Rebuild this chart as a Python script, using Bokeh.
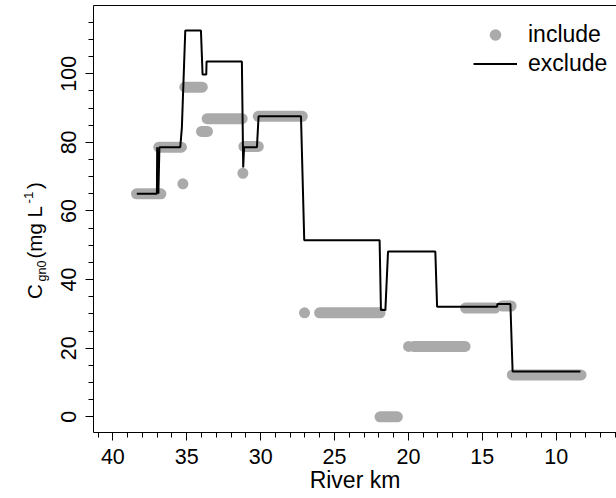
import math
from bokeh.plotting import figure
from bokeh.layouts import row
from bokeh.core.properties import value
from bokeh.models import (Range1d, SingleIntervalTicker, FixedTicker, LinearAxis,
                          Legend, LegendItem, ColumnDataSource)
from bokeh.embed import file_html
from bokeh.resources import INLINE

# ---- data ----
# "exclude" step line (vertices, river km vs C_gn0)
exclude_km = [38.38, 37.02, 37.0, 36.92, 36.85, 35.44, 35.33, 35.1, 34.04, 33.93,
              33.68, 33.66, 31.27, 31.18, 31.12, 30.25, 30.14, 27.27, 27.05, 21.95,
              21.86, 21.56, 21.38, 18.18, 18.06, 14.0, 13.98, 13.1, 12.95, 8.36]
exclude_val = [65.0, 65.0, 78.6, 65.0, 78.6, 78.6, 84.3, 112.6, 112.6, 99.8,
               99.8, 103.6, 103.6, 72.7, 78.6, 78.6, 87.6, 87.6, 51.5, 51.5,
               31.1, 31.1, 48.2, 48.2, 32.1, 32.1, 32.9, 32.9, 13.2, 13.2]

# "include" points: dense runs (start km, end km, value)
include_start_km = [38.4, 36.89, 35.13, 34.0, 33.62, 31.13, 30.16, 26.01, 21.92, 19.65, 16.13, 13.64, 12.97]
include_end_km = [36.75, 35.36, 33.95, 33.6, 31.25, 30.16, 27.18, 21.92, 20.75, 16.17, 14.14, 13.05, 8.32]
include_run_val = [65.0, 78.6, 96.1, 83.2, 86.9, 78.8, 87.6, 30.3, 0.0, 20.5, 31.7, 32.3, 12.2]
# isolated "include" points
include_pt_km = [35.26, 31.2, 27.03, 19.99]
include_pt_val = [67.9, 71.0, 30.3, 20.5]

x_major_interval = 5
y_major_interval = 20

# y-axis title pieces: C_{gn0} (mg L^{-1})
ylabel_parts = ["C", "gn0", "(mg L", "-1", ")"]

GRAY = "#aaaaaa"
FONT = "Liberation Sans"

LAB_W = 50
p = figure(width=616 - LAB_W, height=498,
           x_range=Range1d(41.31, 5.92), y_range=Range1d(-4.58, 119.9),
           output_backend="svg", toolbar_location=None,
           min_border_left=93 - LAB_W, min_border_right=0, min_border_top=5,
           min_border_bottom=66)
p.outline_line_color = None
p.xgrid.visible = False
p.ygrid.visible = False
p.background_fill_color = "white"
p.border_fill_color = "white"

runs = ColumnDataSource(dict(x0=include_start_km, x1=include_end_km, y=include_run_val))
p.segment(x0="x0", y0="y", x1="x1", y1="y", source=runs,
          line_color=GRAY, line_width=11, line_cap="round")
pts = p.scatter(include_pt_km, include_pt_val, size=11, marker="circle",
                fill_color=GRAY, line_color=None)
ln = p.line(exclude_km, exclude_val, line_color="black", line_width=2)

# axes
for ax in (p.xaxis[0], p.yaxis[0]):
    ax.axis_line_color = "black"
    ax.axis_line_width = 1
    ax.major_tick_line_color = "black"
    ax.minor_tick_line_color = "black"
    ax.major_tick_out = 8
    ax.major_tick_in = 0
    ax.minor_tick_out = 5
    ax.minor_tick_in = 0
    ax.major_label_text_font = FONT
    ax.major_label_text_font_size = "21.5px"
    ax.major_label_text_color = "black"

p.xaxis[0].ticker = SingleIntervalTicker(interval=x_major_interval, num_minor_ticks=5)
p.yaxis[0].ticker = SingleIntervalTicker(interval=y_major_interval, num_minor_ticks=4)
p.xaxis[0].major_label_standoff = 8
p.yaxis[0].major_label_standoff = 9
p.yaxis[0].major_label_orientation = "vertical"

p.xaxis[0].axis_label = "River km"
p.xaxis[0].axis_label_text_font = FONT
p.xaxis[0].axis_label_text_font_size = "23px"
p.xaxis[0].axis_label_text_font_style = "normal"
p.xaxis[0].axis_label_text_color = "black"
p.xaxis[0].axis_label_standoff = 0

top = LinearAxis(ticker=FixedTicker(ticks=[]), major_tick_out=0, major_tick_in=0,
                 minor_tick_out=0, minor_tick_in=0, major_label_standoff=0,
                 axis_line_color="black")
p.add_layout(top, "above")

legend = Legend(items=[LegendItem(label="include", renderers=[pts]),
                       LegendItem(label="exclude", renderers=[ln])],
                location=(380, 354), orientation="vertical",
                border_line_color=None, background_fill_alpha=0,
                padding=0, margin=0, spacing=0,
                glyph_width=44, glyph_height=29, label_height=29,
                label_standoff=11, label_text_font=FONT, label_text_font_size="23px",
                label_text_color="black")
p.add_layout(legend)

# left strip holding the y-axis title (sub/superscripts as separate texts)
lab = figure(frame_width=LAB_W, frame_height=498, x_range=Range1d(0, LAB_W),
             y_range=Range1d(498, 0), x_axis_type=None, y_axis_type=None, title=None,
             output_backend="svg", toolbar_location=None,
             min_border=0, min_border_left=0, min_border_right=0,
             min_border_top=0, min_border_bottom=0)
lab.grid.visible = False
lab.outline_line_color = None
lab.background_fill_color = "white"
lab.border_fill_color = "white"
lab_src = ColumnDataSource(dict(
    x=[34.3, 41.8, 34.3, 27.8, 34.3],
    y=[293.5, 276.0, 253.0, 198.0, 183.5],
    t=ylabel_parts,
    fs=["20.5px", "12.5px", "20.5px", "13.5px", "20.5px"]))
lab.text(x="x", y="y", text="t", source=lab_src, angle=math.pi / 2,
         text_font=value(FONT), text_font_size="fs", text_align="left",
         text_baseline="middle", text_color="black")

layout = row(lab, p, spacing=0)
open("out.html", "w").write(file_html(layout, INLINE))
